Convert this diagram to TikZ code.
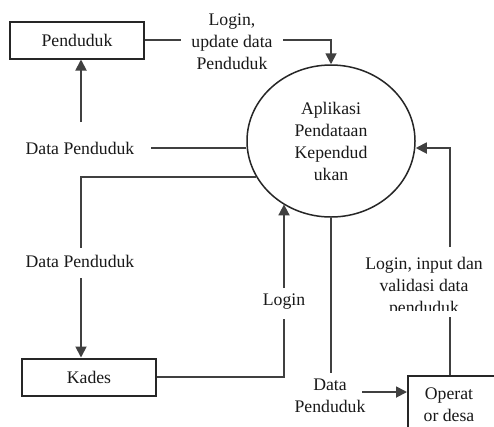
\documentclass[tikz,border=0pt]{standalone}
\usepackage{fontspec}
\setmainfont{Liberation Serif}
\usetikzlibrary{arrows.meta,shapes.geometric}
\newcommand\dfdfont{\fontsize{17.7}{22}\selectfont}
\begin{document}
\begin{tikzpicture}[x=1pt,y=-1pt,
  ent/.style={draw=black!85,line width=2pt,rectangle,minimum width=134pt,minimum height=37pt,inner sep=0pt,font=\dfdfont,text=black!90},
  proc/.style={draw=black!85,line width=1.5pt,ellipse,minimum width=168pt,minimum height=152pt,inner sep=0pt,align=center,font=\dfdfont,text=black!90},
  flow/.style={draw=black!75,line width=1.8pt},
  arr/.style={flow,-{Triangle[length=11pt,width=11pt]}},
  lab/.style={align=center,inner sep=0pt,font=\dfdfont,text=black!90}]
\useasboundingbox (0,0) rectangle (494,426);
\fill[white] (0,0) rectangle (494,426);
\clip (0,0) rectangle (494,426);

% nodes
\node[ent] (pend) at (77,40) {Penduduk};
\node[ent] (kades) at (89,377) {Kades};
\node[ent,minimum width=95pt,minimum height=90pt,anchor=north west] (oper) at (407,375) {};
\node[lab] (opertxt) at (449,405) {Operat\\or desa};
\node[proc] (proc) at (331,141) {Aplikasi\\Pendataan\\Kependud\\ukan};

% labels
\node[lab] (lbl1) at (232,42) {Login,\\update data\\Penduduk};
\node[lab] (lbl2) at (80,148) {Data Penduduk};
\node[lab] (lbl3) at (80,261) {Data Penduduk};
\node[lab] (lbl4) at (284,302) {Login};
\node[lab] (lbl5) at (330,395.5) {Data\\Penduduk};
\node[lab] (lbl6) at (424,287) {Login, input dan\\validasi data\\penduduk};

% helper coordinates
\coordinate (a1) at (181,40);
\coordinate (a2) at (283,40);
\coordinate (b1) at (151,148);
\coordinate (b2) at (81,122);
\coordinate (c1) at (81,248);
\coordinate (c2) at (81,278);
\coordinate (d1) at (284,319);
\coordinate (d2) at (284,288);
\coordinate (e1) at (331,373);
\coordinate (e2) at (362,392);
\coordinate (f1) at (450,317);
\coordinate (f2) at (450,247);

% A: Penduduk -> proses
\draw[flow] (pend.east) -- (a1);
\draw[arr] (a2) -| (proc.north);
% B: proses -> Penduduk
\draw[flow] (b1) -- (b1 -| proc.west);
\draw[arr] (b2) -- (b2 |- pend.south);
% C: proses -> Kades
\draw[flow] (proc.206) -| (c1);
\draw[arr] (c2) -- (c2 |- kades.north);
% D: Kades -> proses
\draw[flow] (kades.east) -| (d1);
\draw[arr] (d2) -- (d2 |- proc.233);
% E: proses -> Operator desa
\draw[flow] (proc.south) -- (e1);
\draw[arr] (e2) -- (e2 -| oper.west);
% F: Operator desa -> proses
\fill[white] (386,310.5) rectangle (462,318);
\draw[flow] (f1 |- oper.north) -- (f1);
\draw[arr] (f2) |- ([yshift=-7pt]proc.east);
\end{tikzpicture}
\end{document}
